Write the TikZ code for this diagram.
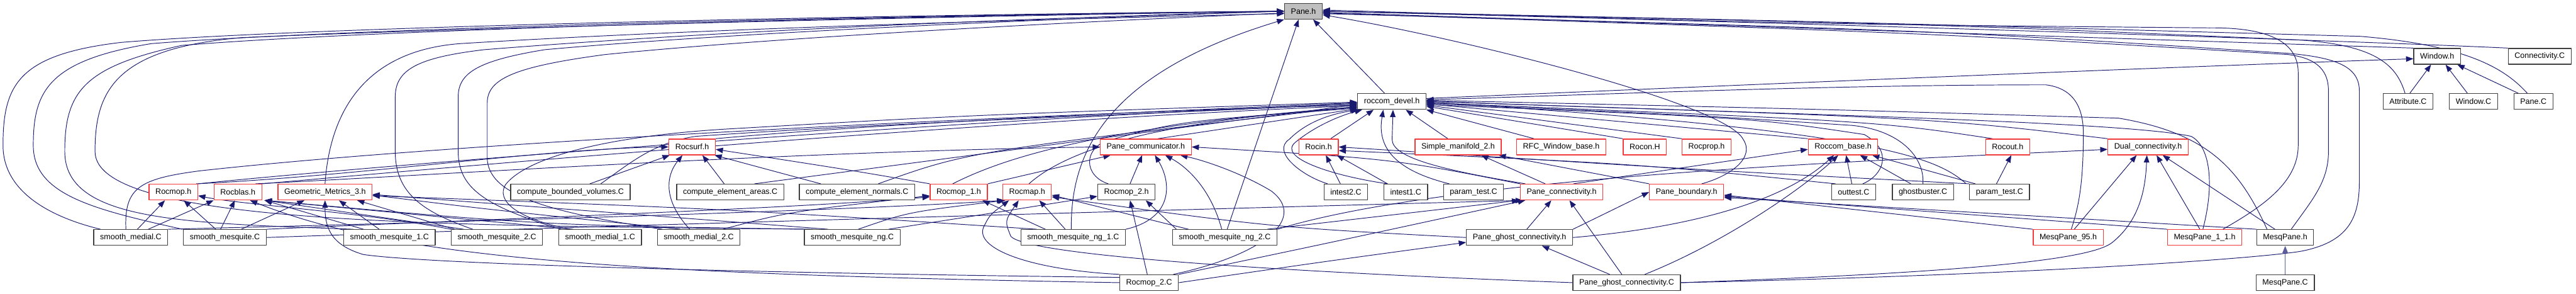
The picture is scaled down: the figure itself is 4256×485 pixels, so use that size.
\documentclass[tikz,border=0pt]{standalone}
\usepackage{fontspec}
\setmainfont{Liberation Sans}
\usetikzlibrary{arrows.meta,backgrounds}
\definecolor{dxEdge}{HTML}{191970}
\definecolor{dxRed}{HTML}{F23A3A}
\definecolor{dxFrame}{HTML}{3F3F3F}
\definecolor{dxRoot}{HTML}{BFBFBF}
\tikzset{
  file/.style={draw=dxFrame,fill=white,line width=1.3pt,minimum height=26pt,inner xsep=10.5pt,inner ysep=0pt,font=\fontsize{13}{15}\selectfont},
  trunc/.style={file,draw=dxRed},
  root/.style={file,fill=dxRoot},
  dep/.style={draw=dxEdge,line width=1pt,-{Triangle[length=12pt,width=9pt]}},
  depmain/.style={dep,draw=dxEdge!70,line width=1.8pt}
}
\begin{document}
\begin{tikzpicture}[x=1pt,y=-1pt,line join=round]
\useasboundingbox (0,0) rectangle (4256,485);
% row 0
\node[root]  (pane)  at (2153.5,18.5) {Pane.h};
\node[file]  (win)   at (4026.5,93)   {Window.h};
\node[file]  (connC) at (4196,93)     {Connectivity.C};
% row 1
\node[file]  (devel) at (2299.5,167.5) {roccom\_devel.h};
\node[file]  (attrC) at (3978.5,167.5) {Attribute.C};
\node[file]  (winC)  at (4086.5,167.5) {Window.C};
\node[file]  (paneC) at (4185.5,167.5) {Pane.C};
% row 2
\node[trunc] (surf)  at (1143.5,242.5) {Rocsurf.h};
\node[trunc] (comm)  at (1893,242.5)   {Pane\_communicator.h};
\node[trunc] (rin)   at (2178.5,242.5) {Rocin.h};
\node[trunc] (sman)  at (2409,242.5)   {Simple\_manifold\_2.h};
\node[trunc] (rfc)   at (2579.5,242.5) {RFC\_Window\_base.h};
\node[trunc] (ron)   at (2717.5,242.5) {Rocon.H};
\node[trunc] (rprop) at (2819.5,242.5) {Rocprop.h};
\node[trunc] (base)  at (3045,242.5)   {Roccom\_base.h};
\node[trunc] (rout)  at (3317,242.5)   {Rocout.h};
\node[trunc] (dual)  at (3549,242.5)   {Dual\_connectivity.h};
% row 3
\node[trunc] (mop)   at (286.5,317)  {Rocmop.h};
\node[trunc] (blas)  at (393,317)    {Rocblas.h};
\node[trunc] (geo)   at (537,317)    {Geometric\_Metrics\_3.h};
\node[file]  (cbv)   at (942.5,317)  {compute\_bounded\_volumes.C};
\node[file]  (cea)   at (1206.5,317) {compute\_element\_areas.C};
\node[file]  (cen)   at (1416,317)   {compute\_element\_normals.C};
\node[trunc] (mopA)  at (1584,317)   {Rocmop\_1.h};
\node[trunc] (rmap)  at (1697,317)   {Rocmap.h};
\node[file]  (mopB)  at (1861,317)   {Rocmop\_2.h};
\node[file]  (it2)   at (2223.5,317) {intest2.C};
\node[file]  (it1)   at (2322.5,317) {intest1.C};
\node[file]  (ptA)   at (2434.5,317) {param\_test.C};
\node[trunc] (pcon)  at (2580,317)   {Pane\_connectivity.h};
\node[trunc] (pbnd)  at (2786.5,317) {Pane\_boundary.h};
\node[file]  (outt)  at (3062.5,317) {outtest.C};
\node[file]  (ghost) at (3177,317)   {ghostbuster.C};
\node[file]  (ptB)   at (3303.5,317) {param\_test.C};
% row 4
\node[file]  (smed)  at (216,392)    {smooth\_medial.C};
\node[file]  (smq)   at (371.5,392)  {smooth\_mesquite.C};
\node[file]  (smqA)  at (643.5,392)  {smooth\_mesquite\_1.C};
\node[file]  (smqB)  at (821,392)    {smooth\_mesquite\_2.C};
\node[file]  (smedA) at (991.5,392)  {smooth\_medial\_1.C};
\node[file]  (smedB) at (1154.5,392) {smooth\_medial\_2.C};
\node[file]  (sng)   at (1408,392)   {smooth\_mesquite\_ng.C};
\node[file]  (sngA)  at (1773,392)   {smooth\_mesquite\_ng\_1.C};
\node[file]  (sngB)  at (2023.5,392) {smooth\_mesquite\_ng\_2.C};
\node[file]  (pgh)   at (2510.5,392) {Pane\_ghost\_connectivity.h};
\node[trunc] (mq95)  at (3417,392)   {MesqPane\_95.h};
\node[trunc] (mq11)  at (3642.5,392) {MesqPane\_1\_1.h};
\node[file]  (mqh)   at (3775.5,392) {MesqPane.h};
% row 5
\node[file]  (mopBC) at (1898.5,466.5) {Rocmop\_2.C};
\node[file]  (pghC)  at (2687.5,466.5) {Pane\_ghost\_connectivity.C};
\node[file]  (mqC)   at (3775.5,466.5) {MesqPane.C};
\begin{scope}[on background layer]
\fill[white] (0,0) rectangle (4256,485);
% into Pane.h
\draw[dep] ([xshift=-12pt]devel.north) -- ([xshift=16pt]pane.south);
\draw[dep] ([xshift=4pt]sngB.north) -- ([xshift=-8pt]pane.south);
\draw[dep] ([xshift=-3pt]sngA.north) .. controls (1768,250) and (1830,120) .. (pane.south west);
\draw[dep] (geo.north) .. controls (544,200) and (590,85) .. (760,72) .. controls (1200,45) and (1800,30) .. ([yshift=-4pt]pane.west);
\draw[dep] ([xshift=-50pt]smed.north) .. controls (90,360) and (5,320) .. (5,240) .. controls (5,140) and (30,90) .. (200,70) .. controls (500,45) and (1400,25) .. (pane.west);
\draw[dep] ([xshift=-70pt]smq.north) .. controls (150,345) and (55,320) .. (55,240) .. controls (55,150) and (80,100) .. (250,72) .. controls (550,48) and (1400,26) .. (pane.west);
\draw[dep] ([xshift=-60pt]smqA.north) .. controls (300,368) and (107,365) .. (107,250) .. controls (107,150) and (140,110) .. (300,75) .. controls (600,50) and (1400,27) .. (pane.west);
\draw[dep] ([xshift=-65pt]sng.north) .. controls (700,372) and (157,370) .. (157,250) .. controls (157,150) and (190,80) .. (400,62) .. controls (800,45) and (1500,28) .. (pane.west);
\draw[dep] ([xshift=-40pt]smqB.north) .. controls (700,350) and (653,320) .. (653,250) -- (653,160) .. controls (653,115) and (690,95) .. (800,82) .. controls (1200,50) and (1700,30) .. (pane.west);
\draw[dep] ([xshift=-65pt]smedA.north) .. controls (800,340) and (757,310) .. (757,250) -- (757,160) .. controls (757,120) and (790,100) .. (900,82) .. controls (1200,55) and (1700,32) .. (pane.west);
\draw[dep] ([xshift=-60pt]smedB.north) .. controls (900,350) and (805,320) .. (805,260) -- (805,170) .. controls (805,130) and (850,110) .. (1000,90) .. controls (1300,60) and (1800,35) .. ([yshift=-3pt]pane.west);
\draw[dep] (win.north west) -- ([yshift=-2pt]pane.east);
\draw[dep] (connC.north west) .. controls (3900,68) and (3000,38) .. (pane.east);
\draw[dep] ([xshift=-5pt]attrC.north) .. controls (3960,110) and (3930,75) .. (3800,66) .. controls (3200,40) .. (pane.east);
\draw[dep] ([xshift=-10pt]paneC.north) .. controls (4140,115) and (4080,75) .. (3900,60) .. controls (3000,35) .. (pane.east);
\draw[dep] ([xshift=30pt]mq11.north) .. controls (3740,340) and (3797,300) .. (3797,240) -- (3797,120) .. controls (3797,70) and (3750,45) .. (3650,46) .. controls (3000,40) .. ([yshift=2pt]pane.east);
\draw[dep] ([xshift=10pt]mqh.north) .. controls (3820,330) and (3847,300) .. (3847,250) -- (3847,150) .. controls (3847,110) and (3820,95) .. (3780,90) .. controls (3200,55) .. ([yshift=-3pt]pane.east);
\draw[dep] (pghC.east) .. controls (3300,455) and (3700,430) .. (3800,415) .. controls (3880,400) and (3898,360) .. (3898,300) -- (3898,150) .. controls (3898,110) and (3860,95) .. (3780,88) .. controls (3200,50) .. ([yshift=-4pt]pane.east);
\draw[dep] ([xshift=25pt]pbnd.north) .. controls (2860,290) and (2900,260) .. (2880,230) .. controls (2850,170) and (2400,60) .. ([yshift=-6pt]pane.east);
% into roccom_devel.h
\draw[dep] ([xshift=-8pt]smed.north) .. controls (205,310) and (230,295) .. (330,282) .. controls (800,230) and (1800,185) .. ([yshift=-6pt]devel.west);
\draw[dep] (mop.north east) .. controls (600,275) and (1600,195) .. ([yshift=-4pt]devel.west);
\draw[dep] (blas.north east) .. controls (700,280) and (1600,200) .. ([yshift=-7pt]devel.west);
\draw[dep] (surf.north east) .. controls (1500,200) and (2000,180) .. ([yshift=-2pt]devel.west);
\draw[dep] ([xshift=50pt]cbv.north) .. controls (1040,270) and (1080,235) .. (1150,225) .. controls (1500,200) and (2000,185) .. ([yshift=-3pt]devel.west);
\draw[dep] ([xshift=40pt]cea.north) -- ([yshift=-5pt]devel.west);
\draw[dep] ([xshift=35pt]cen.north) .. controls (1600,250) .. ([yshift=-8pt]devel.west);
\draw[dep] ([xshift=-10pt]mopA.north) .. controls (1650,265) and (1800,210) .. ([yshift=-9pt]devel.west);
\draw[dep] ([xshift=3pt]rmap.north) .. controls (1760,250) and (1900,200) .. ([yshift=-10pt]devel.west);
\draw[dep] ([xshift=-30pt]mopB.north) .. controls (1790,290) and (1790,245) .. (1830,232) .. controls (1950,200) .. ([yshift=-11pt]devel.west);
\draw[dep] ([xshift=20pt]comm.north) -- ([yshift=-12pt]devel.west);
\draw[dep] ([xshift=-50pt]smedA.north) .. controls (850,360) and (820,330) .. (835,305) .. controls (870,260) and (1000,225) .. (1200,213) .. controls (1600,190) .. ([yshift=-1pt]devel.west);
\draw[dep] ([xshift=-30pt]it2.north) .. controls (2150,290) and (2100,250) .. (2130,230) .. controls (2160,200) and (2200,188) .. ([xshift=2pt]devel.south west);
\draw[dep] ([xshift=-30pt]it1.north) .. controls (2200,290) and (2110,260) .. (2140,235) .. controls (2170,210) and (2210,192) .. ([xshift=8pt]devel.south west);
\draw[dep] ([xshift=20pt]rin.north) -- ([xshift=-30pt]devel.south);
\draw[dep] ([xshift=-40pt]ptA.north) .. controls (2300,280) and (2275,240) .. ([xshift=-14pt]devel.south);
\draw[dep] ([xshift=-60pt]pcon.north) .. controls (2380,280) and (2300,260) .. (2300,230) -- ([xshift=2pt]devel.south);
\draw[dep] ([xshift=-17pt]sman.north) -- ([xshift=23pt]devel.south);
\draw[dep] ([xshift=-45pt]rfc.north) -- (devel.south east);
\draw[dep] (ron.north west) -- ([yshift=-8pt]devel.east);
\draw[dep] (rprop.north west) -- ([yshift=-6pt]devel.east);
\draw[dep] (base.north west) -- ([yshift=-4pt]devel.east);
\draw[dep] ([xshift=-25pt]rout.north) .. controls (3100,200) .. ([yshift=-2pt]devel.east);
\draw[dep] (dual.north west) .. controls (3200,195) .. (devel.east);
\draw[dep] ([xshift=15pt]outt.north) .. controls (3110,290) and (3130,250) .. (3080,222) .. controls (2900,195) .. ([yshift=-5pt]devel.east);
\draw[dep] (ghost.north) .. controls (3180,260) and (3140,215) .. (3060,207) .. controls (2800,190) .. ([yshift=-3pt]devel.east);
\draw[dep] ([xshift=-55pt]ptB.north) .. controls (3200,260) and (3100,215) .. ([yshift=-1pt]devel.east);
\draw[dep] ([xshift=5pt]mq95.north) .. controls (3435,340) and (3442,300) .. (3442,220) .. controls (3442,170) and (3420,145) .. (3380,140) .. controls (3000,140) and (2600,158) .. ([yshift=3pt]devel.east);
\draw[dep] ([xshift=-3pt]mq11.north) .. controls (3660,300) and (3650,240) .. (3620,225) .. controls (3500,198) and (2800,185) .. ([yshift=1pt]devel.east);
\draw[dep] ([xshift=-30pt]mqh.north) .. controls (3700,280) and (3650,220) .. (3500,195) .. controls (3000,180) .. ([yshift=2pt]devel.east);
% into Window.h
\draw[dep] ([yshift=5pt]devel.east) .. controls (3000,135) and (3600,110) .. ([yshift=-4pt]win.west);
\draw[dep] ([xshift=3pt]attrC.north) -- ([xshift=-10pt]win.south);
\draw[dep] ([xshift=-10pt]winC.north) -- ([xshift=14pt]win.south);
\draw[dep] ([xshift=-25pt]paneC.north) -- ([xshift=-6pt]win.south east);
% into Rocsurf.h
\draw[dep] ([xshift=32pt]cbv.north) -- ([xshift=-37pt]surf.south);
\draw[dep] ([xshift=-10pt]cea.north) -- ([xshift=17pt]surf.south);
\draw[dep] ([xshift=-60pt]cen.north) -- ([xshift=-2pt]surf.south east);
\draw[dep] ([xshift=-15pt]smedB.north) .. controls (1095,330) and (1100,290) .. ([xshift=-16pt]surf.south);
\draw[dep] (mopA.north west) .. controls (1400,280) .. ([yshift=-4pt]surf.east);
\draw[dep] (mop.20) .. controls (600,290) and (900,245) .. (surf.west);
% into Pane_communicator.h
\draw[dep] (blas.25) .. controls (700,290) and (1300,250) .. (comm.west);
\draw[dep] (mopA.north east) -- ([xshift=-58pt]comm.south);
\draw[dep] ([xshift=6pt]mopB.north) -- ([xshift=-6pt]comm.south);
\draw[dep] (sngA.north east) .. controls (1940,360) and (1935,300) .. ([xshift=15pt]comm.south);
\draw[dep] ([xshift=-5pt]sngB.north) .. controls (2000,310) and (1960,275) .. ([xshift=32pt]comm.south);
\draw[dep] ([xshift=40pt]mopBC.north) .. controls (2090,420) and (2160,360) .. (2100,315) .. controls (2050,285) and (1990,265) .. ([xshift=57pt]comm.south);
\draw[dep] (pcon.north west) .. controls (2300,262) .. (comm.east);
% into Rocin.h
\draw[dep] ([xshift=-9pt]it2.north) -- ([xshift=12pt]rin.south);
\draw[dep] ([xshift=-30pt]it1.north) -- ([xshift=-3pt]rin.south east);
\draw[dep] (ptB.north west) .. controls (2800,280) .. (rin.east);
\draw[dep] ([xshift=-30pt]outt.north) .. controls (2700,270) .. ([yshift=-6pt]rin.east);
% into Simple_manifold_2.h
\draw[dep] ([xshift=-27pt]pcon.north) -- ([xshift=38pt]sman.south);
\draw[dep] (pbnd.north west) -- ([xshift=-5pt]sman.south east);
% into Roccom_base.h
\draw[dep] ([xshift=-3pt]outt.north) -- ([xshift=5pt]base.south);
\draw[dep] ([xshift=-20pt]ghost.north) -- ([xshift=28pt]base.south);
\draw[dep] ([xshift=-40pt]ptB.north) -- ([xshift=48pt]base.south);
\draw[dep] (pgh.east) .. controls (2800,375) and (2950,330) .. ([xshift=-15pt]base.south);
\draw[dep] ([xshift=30pt]pghC.north) .. controls (2850,400) and (2980,310) .. ([xshift=-8pt]base.south);
\draw[dep] (pcon.35) -- ([yshift=-4pt]base.west);
% into Rocout.h
\draw[dep] ([xshift=-5pt]ptB.north) -- ([xshift=6pt]rout.south);
% into Dual_connectivity.h
\draw[dep] ([xshift=10pt]mq95.north) -- ([xshift=-19pt]dual.south);
\draw[dep] (pghC.east) .. controls (3300,448) and (3460,425) .. (3490,400) .. controls (3540,360) and (3545,300) .. ([xshift=-2pt]dual.south);
\draw[dep] ([xshift=-8pt]mq11.north) -- ([xshift=14pt]dual.south);
\draw[dep] ([xshift=-17pt]mqh.north) -- ([xshift=24pt]dual.south);
\draw[dep] (sngB.north east) .. controls (2400,290) and (3100,265) .. ([yshift=-4pt]dual.west);
% into Rocmop.h
\draw[dep] ([xshift=11pt]smed.north) -- ([xshift=-14pt]mop.south);
\draw[dep] ([xshift=-15pt]smq.north) -- ([xshift=17pt]mop.south);
\draw[dep] (smqB.north west) .. controls (600,350) and (400,338) .. ([yshift=-6pt]mop.east);
% into Rocblas.h
\draw[dep] ([xshift=29pt]smed.north) -- ([xshift=-40pt]blas.south);
\draw[dep] ([xshift=-7pt]smq.north) -- ([xshift=-5pt]blas.south);
\draw[dep] ([xshift=-43pt]smqA.north) -- ([xshift=4pt]blas.south east);
\draw[dep] ([xshift=-55pt]smqB.north) -- ([xshift=4pt]blas.south east);
\draw[dep] ([xshift=-45pt]smedA.north) -- ([xshift=4pt]blas.south east);
\draw[dep] ([xshift=-70pt]sng.north) .. controls (900,372) .. ([xshift=4pt]blas.south east);
\draw[dep] (mopBC.west) .. controls (1000,452) and (650,425) .. ([xshift=20pt]blas.south);
% into Geometric_Metrics_3.h
\draw[dep] ([xshift=27pt]smq.north) -- ([xshift=-34pt]geo.south);
\draw[dep] ([xshift=-17pt]smqA.north) -- ([xshift=23pt]geo.south);
\draw[dep] (mopBC.170) .. controls (1200,450) and (700,435) .. (600,420) .. controls (550,405) and (537,380) .. (geo.south);
\draw[dep] ([xshift=-70pt]smqB.north) -- ([xshift=53pt]geo.south);
\draw[dep] ([xshift=-30pt]smedB.north) .. controls (800,345) .. ([yshift=-5pt]geo.east);
\draw[dep] ([xshift=-40pt]sng.north) .. controls (1000,350) .. ([yshift=-4pt]geo.east);
\draw[dep] ([xshift=-60pt]sngA.north) .. controls (1200,345) .. ([yshift=-6pt]geo.east);
% into Rocmop_1.h
\draw[dep] ([xshift=-46pt]sngA.north) -- ([xshift=39pt]mopA.south);
\draw[dep] ([xshift=40pt]smedB.north) .. controls (1300,350) .. ([yshift=-6pt]mopA.west);
\draw[dep] (smq.north east) .. controls (800,362) and (1300,345) .. ([yshift=-8pt]mopA.west);
% into Rocmap.h
\draw[dep] (mopBC.north west) .. controls (1700,445) and (1610,410) .. (1625,375) .. controls (1635,355) .. ([xshift=-30pt]rmap.south);
\draw[dep] (pghC.west) .. controls (2200,452) and (1700,425) .. (1670,390) .. controls (1660,365) .. ([xshift=-14pt]rmap.south);
\draw[dep] ([xshift=-13pt]sngA.north) -- ([xshift=20pt]rmap.south);
\draw[dep] (smed.north east) .. controls (700,368) and (1400,348) .. ([xshift=-38pt]rmap.south);
\draw[dep] ([xshift=10pt]sng.north) .. controls (1500,350) .. ([xshift=-36pt]rmap.south);
\draw[dep] ([xshift=-60pt]sngB.north) -- ([yshift=-5pt]rmap.east);
\draw[dep] (pgh.west) .. controls (2100,375) .. ([yshift=-8pt]rmap.east);
% into Rocmop_2.h
\draw[dep] ([xshift=-3pt]mopBC.north) -- ([xshift=6pt]mopB.south);
\draw[dep] ([xshift=-80pt]sngB.north) -- ([xshift=32pt]mopB.south);
\draw[dep] ([xshift=60pt]sng.north) .. controls (1650,350) .. ([yshift=-7pt]mopB.west);
% into Pane_connectivity.h
\draw[dep] ([xshift=12pt]pgh.north) -- ([xshift=-17pt]pcon.south);
\draw[dep] ([xshift=-8pt]pghC.north) -- ([xshift=13pt]pcon.south);
\draw[dep] ([xshift=70pt]sngB.north) -- ([xshift=-70pt]pcon.south);
\draw[dep] (mopBC.north east) .. controls (2200,400) .. ([xshift=-60pt]pcon.south);
\draw[dep] (smq.east) .. controls (1000,372) and (2000,345) .. ([xshift=-64pt]pcon.south);
% into Pane_boundary.h
\draw[dep] (pgh.north east) -- (pbnd.west);
\draw[dep] (mq95.north west) -- ([yshift=-5pt]pbnd.east);
\draw[dep] (mq11.north west) -- ([yshift=-7pt]pbnd.east);
\draw[dep] (mqh.north west) -- ([yshift=-9pt]pbnd.east);
% into Pane_ghost_connectivity.h
\draw[dep] (mopBC.east) .. controls (2200,430) .. ([yshift=-8pt]pgh.west);
\draw[dep] ([xshift=-28pt]pghC.north) -- ([xshift=37pt]pgh.south);
% into MesqPane.h
\draw[depmain] (mqC) -- (mqh);
\end{scope}
\end{tikzpicture}
\end{document}
